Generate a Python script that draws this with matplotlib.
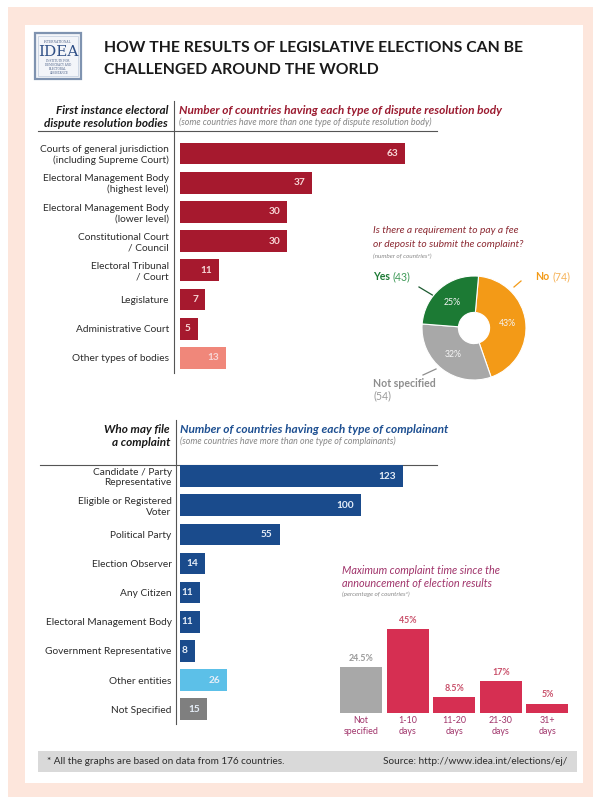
import matplotlib
matplotlib.use("Agg")
import matplotlib.pyplot as plt
from matplotlib.patches import Rectangle
from matplotlib.lines import Line2D

plt.rcParams['font.family'] = ['Lato', 'DejaVu Sans']

# ---------------- data ----------------
body_types = [
    "Courts of general jurisdiction\n(including Supreme Court)",
    "Electoral Management Body\n(highest level)",
    "Electoral Management Body\n(lower level)",
    "Constitutional Court\n/ Council",
    "Electoral Tribunal\n/ Court",
    "Legislature",
    "Administrative Court",
    "Other types of bodies",
]
body_counts = [63, 37, 30, 30, 11, 7, 5, 13]

fee_labels = ["No", "Not specified", "Yes"]
fee_counts = [74, 54, 43]

complainants = [
    "Candidate / Party\nRepresentative",
    "Eligible or Registered\nVoter",
    "Political Party",
    "Election Observer",
    "Any Citizen",
    "Electoral Management Body",
    "Government Representative",
    "Other entities",
    "Not Specified",
]
complainant_counts = [123, 100, 55, 14, 11, 11, 8, 26, 15]

time_labels = ["Not\nspecified", "1-10\ndays", "11-20\ndays", "21-30\ndays", "31+\ndays"]
time_pct = [24.5, 45, 8.5, 17, 5]

# ---------------- colours ----------------
RED = '#a6192e'
SALMON = '#f0877a'
BLUE = '#1a4b8c'
LIGHTBLUE = '#5cc0e8'
DGREY = '#7f7f7f'
GREEN = '#1c7a34'
ORANGE = '#f39a17'
PGREY = '#a8a8a8'
CRIMSON = '#d62f52'
MAGENTA = '#a0336a'
TXT = '#2b2b2b'

W, H, DPI = 593, 797, 100
fig = plt.figure(figsize=(W / DPI, H / DPI), dpi=DPI, facecolor='white')
renderer = fig.canvas.get_renderer()


def fit(s, target, **kw):
    """Font size at which the string s spans target pixels."""
    t = fig.text(0, 0, s, fontsize=10, **kw)
    w = t.get_window_extent(renderer).width
    t.remove()
    return 10 * target / w


def px_axes(left, top, width, height):
    return fig.add_axes([left / W, 1 - (top + height) / H, width / W, height / H])


# background canvas in pixel coordinates
bg = fig.add_axes([0, 0, 1, 1], zorder=0)
bg.set_xlim(0, W)
bg.set_ylim(H, 0)
bg.axis('off')

bg.add_patch(Rectangle((8, 7), W - 8, H - 7, facecolor='#fde6dc', edgecolor='none'))
bg.add_patch(Rectangle((25, 25), 558, 758, facecolor='white', edgecolor='none'))

# logo
bg.add_patch(Rectangle((35, 33), 46, 46, facecolor='#f3f5f9', edgecolor='#7f93b0', lw=1.6))
bg.add_patch(Rectangle((38, 36), 40, 40, facecolor='none', edgecolor='#c9d3e2', lw=0.6))
bg.text(58, 41.5, "INTERNATIONAL", fontsize=2.2, color='#4a5f86', ha='center', va='center',
        family='DejaVu Serif')
bg.text(58, 52, "IDEA", fontsize=11, color='#2f4f86', ha='center', va='center',
        family='DejaVu Serif')
bg.text(58, 67, "INSTITUTE FOR\nDEMOCRACY AND\nELECTORAL\nASSISTANCE", fontsize=2.0,
        color='#4a5f86', ha='center', va='center', family='DejaVu Serif', linespacing=1.1)

# title
title_fs = fit("HOW THE RESULTS OF LEGISLATIVE ELECTIONS CAN BE", 418, fontweight='bold')
bg.text(104, 48, "HOW THE RESULTS OF LEGISLATIVE ELECTIONS CAN BE", fontsize=title_fs,
        fontweight='bold', color='#1a1a1a', va='center')
bg.text(104, 70, "CHALLENGED AROUND THE WORLD", fontsize=title_fs,
        fontweight='bold', color='#1a1a1a', va='center')

label_fs = fit("Courts of general jurisdiction", 129)
head_fs = fit("Number of countries having each type of dispute resolution body", 322,
              fontweight='bold', fontstyle='italic')
sub_fs = fit("(some countries have more than one type of dispute resolution body)", 252,
             fontstyle='italic')
left_head_fs = fit("dispute resolution bodies", 123, fontweight='bold', fontstyle='italic')

# ---- section 1 header ----
bg.text(168, 110, "First instance electoral", fontsize=left_head_fs, fontweight='bold',
        fontstyle='italic', color='#1a1a1a', ha='right', va='center')
bg.text(168, 123, "dispute resolution bodies", fontsize=left_head_fs, fontweight='bold',
        fontstyle='italic', color='#1a1a1a', ha='right', va='center')
bg.text(179, 110, "Number of countries having each type of dispute resolution body",
        fontsize=head_fs, fontweight='bold', fontstyle='italic', color='#9b1b30', va='center')
bg.text(179, 122.5, "(some countries have more than one type of dispute resolution body)",
        fontsize=sub_fs, fontstyle='italic', color='#858585', va='center')
bg.add_line(Line2D([38, 437], [131, 131], color='#555555', lw=0.8))
bg.add_line(Line2D([174, 174], [101, 373], color='#555555', lw=0.8))

# ---- section 2 header ----
bg.text(170, 429, "Who may file", fontsize=left_head_fs, fontweight='bold',
        fontstyle='italic', color='#1a1a1a', ha='right', va='center')
bg.text(170, 442, "a complaint", fontsize=left_head_fs, fontweight='bold',
        fontstyle='italic', color='#1a1a1a', ha='right', va='center')
bg.text(180, 429, "Number of countries having each type of complainant",
        fontsize=head_fs, fontweight='bold', fontstyle='italic', color='#1d4f91', va='center')
bg.text(180, 441.5, "(some countries have more than one type of complainants)",
        fontsize=sub_fs, fontstyle='italic', color='#858585', va='center')
bg.add_line(Line2D([40, 437], [465, 465], color='#555555', lw=0.8))
bg.add_line(Line2D([176, 176], [420, 724], color='#555555', lw=0.8))


def hbar_panel(ax, labels, values, colors, pad_pt):
    n = len(values)
    ax.barh(range(n), values, height=0.74, color=colors)
    ax.set_ylim(n - 0.5, -0.5)
    ax.set_yticks(range(n), labels=labels, fontsize=label_fs, color=TXT)
    ax.tick_params(axis='y', length=0, pad=pad_pt)
    ax.set_xticks([])
    for s in ax.spines.values():
        s.set_visible(False)
    ax.patch.set_alpha(0)
    for i, v in enumerate(values):
        ax.annotate(str(v), xy=(v, i), xytext=(-5, 0), textcoords='offset points',
                    ha='right', va='center', fontsize=7.3, fontweight='bold', color='#f7d6d6')


# ---- top bars: dispute resolution bodies ----
top_step = 29.2
ax1 = px_axes(180, 153.5 - top_step / 2, 260, top_step * len(body_counts))
ax1.set_xlim(0, 260 / 3.571)
hbar_panel(ax1, body_types, body_counts, [RED] * 7 + [SALMON], pad_pt=8)

# ---- bottom bars: complainants ----
bot_step = 29.15
ax2 = px_axes(180, 476 - bot_step / 2, 260, bot_step * len(complainant_counts))
ax2.set_xlim(0, 260 / 1.813)
hbar_panel(ax2, complainants, complainant_counts,
           [BLUE] * 7 + [LIGHTBLUE, DGREY], pad_pt=6)
for t in ax2.texts:
    t.set_color('#e6eef8')

# ---- donut: fee requirement ----
q_fs = fit("Is there a requirement to pay a fee", 147, fontstyle='italic')
bg.text(373, 230, "Is there a requirement to pay a fee", fontsize=q_fs, fontstyle='italic',
        color='#8c2a33', va='center')
bg.text(373, 244, "or deposit to submit the complaint?", fontsize=q_fs, fontstyle='italic',
        color='#8c2a33', va='center')
bg.text(373, 256, "(number of countries*)", fontsize=4.6, fontstyle='italic',
        color='#8a8a8a', va='center')

ax3 = px_axes(422, 276, 104, 104)
ax3.pie(fee_counts, colors=[ORANGE, PGREY, GREEN], startangle=85, counterclock=False,
        wedgeprops=dict(width=0.7, edgecolor='white', linewidth=0.8),
        autopct=lambda p: f"{p:.0f}%", pctdistance=0.64,
        textprops=dict(color='#f5f5f5', fontsize=6.3))
ax3.set_xlim(-1, 1)
ax3.set_ylim(-1, 1)

lab_fs = 7.6
t_yes = bg.text(373, 277, fee_labels[2], fontsize=lab_fs, fontweight='bold', color=GREEN,
                va='center')
bg.annotate(f"({fee_counts[2]})", xy=(1, 0.5), xycoords=t_yes, xytext=(2, 0),
            textcoords='offset points', va='center', fontsize=lab_fs, color='#3f9a58')
t_no = bg.text(535, 277, fee_labels[0], fontsize=lab_fs, fontweight='bold', color=ORANGE,
               va='center')
bg.annotate(f"({fee_counts[0]})", xy=(1, 0.5), xycoords=t_no, xytext=(2, 0),
            textcoords='offset points', va='center', fontsize=lab_fs, color='#f6b257')
bg.text(373, 383, fee_labels[1], fontsize=lab_fs, fontweight='bold', color='#8e8e8e',
        va='center')
bg.text(373, 396, f"({fee_counts[1]})", fontsize=lab_fs, color='#9a9a9a', va='center')
bg.add_line(Line2D([419, 434], [287, 296], color='#1c5a30', lw=0.9))
bg.add_line(Line2D([514, 521], [287, 281], color=ORANGE, lw=0.9))
bg.add_line(Line2D([423, 436], [375, 369], color='#8e8e8e', lw=0.9))

# ---- column chart: maximum complaint time ----
mx_fs = fit("Maximum complaint time since the", 158, fontstyle='italic')
bg.text(342, 571, "Maximum complaint time since the", fontsize=mx_fs, fontstyle='italic',
        color=MAGENTA, va='center')
bg.text(342, 584, "announcement of election results", fontsize=mx_fs, fontstyle='italic',
        color=MAGENTA, va='center')
bg.text(342, 594, "(percentage of countries*)", fontsize=4.6, fontstyle='italic',
        color='#8a8a8a', va='center')

col_step = 46.6
ax4 = px_axes(361 - col_step / 2, 713 - 1.867 * 50, col_step * 5, 1.867 * 50)
xs = range(len(time_pct))
ax4.bar(xs, time_pct, width=0.9, color=[PGREY] + [CRIMSON] * 4)
ax4.set_xlim(-0.5, 4.5)
ax4.set_ylim(0, 50)
ax4.set_yticks([])
ax4.set_xticks(list(xs), labels=time_labels, fontsize=6.4, color=MAGENTA, linespacing=1.15)
ax4.tick_params(axis='x', length=0, pad=2.5)
for s in ax4.spines.values():
    s.set_visible(False)
ax4.patch.set_alpha(0)
for i, v in enumerate(time_pct):
    ax4.annotate(f"{v:g}%", xy=(i, v), xytext=(0, 3), textcoords='offset points',
                 ha='center', va='bottom', fontsize=6.4, fontweight='bold',
                 color='#9a9a9a' if i == 0 else '#c9506a')

# ---- footer ----
bg.add_patch(Rectangle((38, 751), 539, 21, facecolor='#d9d9d9', edgecolor='none'))
foot_fs = fit("* All the graphs are based on data from 176 countries.", 236)
bg.text(47, 761.5, "* All the graphs are based on data from 176 countries.",
        fontsize=foot_fs, color=TXT, va='center')
bg.text(567, 761.5, "Source: http://www.idea.int/elections/ej/", fontsize=foot_fs,
        color=TXT, va='center', ha='right')

fig.savefig("out.png", dpi=DPI, facecolor='white')
